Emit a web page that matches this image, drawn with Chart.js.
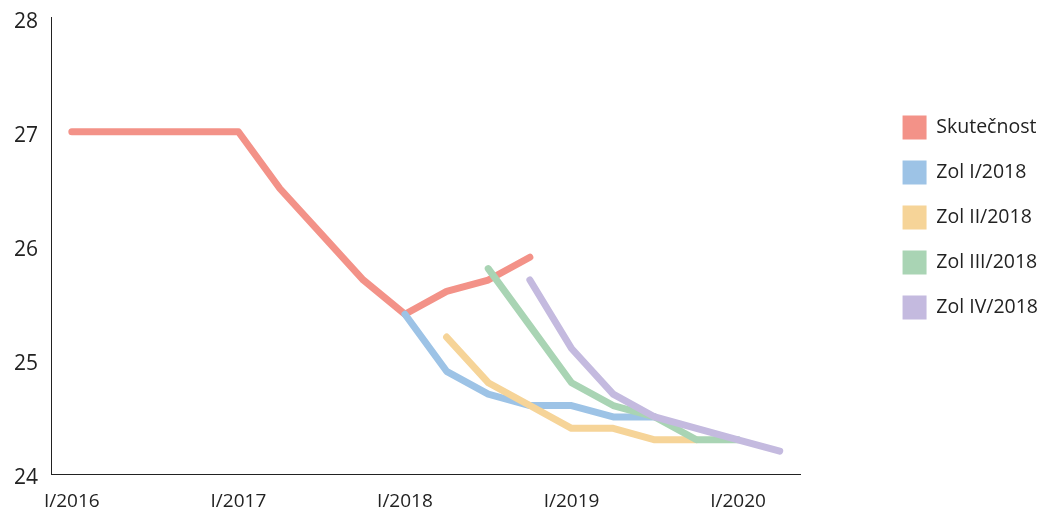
<!DOCTYPE html>
<html>
<head>
<meta charset="utf-8">
<script src="https://cdn.jsdelivr.net/npm/chart.js@4"></script>
<style>
  html, body { margin: 0; padding: 0; background: #fff; }
  #wrap { width: 1048px; height: 508px; }
</style>
</head>
<body>
<div id="wrap"><canvas id="zolChart"></canvas></div>
<script>
// quarters I/2016 .. II/2020
const quarters = [
  'I/2016', 'II/2016', 'III/2016', 'IV/2016',
  'I/2017', 'II/2017', 'III/2017', 'IV/2017',
  'I/2018', 'II/2018', 'III/2018', 'IV/2018',
  'I/2019', 'II/2019', 'III/2019', 'IV/2019',
  'I/2020', 'II/2020'
];

const skutecnost = [27, 27, 27, 27, 27, 26.5, 26.1, 25.7, 25.4, 25.6, 25.7, 25.9,
  null, null, null, null, null, null];
const zolI = [null, null, null, null, null, null, null, null,
  25.4, 24.9, 24.7, 24.6, 24.6, 24.5, 24.5, null, null, null];
const zolII = [null, null, null, null, null, null, null, null, null,
  25.2, 24.8, 24.6, 24.4, 24.4, 24.3, 24.3, null, null];
const zolIII = [null, null, null, null, null, null, null, null, null, null,
  25.8, 25.3, 24.8, 24.6, 24.5, 24.3, 24.3, null];
const zolIV = [null, null, null, null, null, null, null, null, null, null, null,
  25.7, 25.1, 24.7, 24.5, 24.4, 24.3, 24.2];

const yTicks = [24, 25, 26, 27, 28];

const font = '"Open Sans", "DejaVu Sans", sans-serif';

function line(label, data, color, order) {
  return {
    label: label,
    data: data,
    borderColor: color,
    backgroundColor: color,
    borderWidth: 7,
    borderCapStyle: 'round',
    borderJoinStyle: 'round',
    pointRadius: 0,
    pointHoverRadius: 0,
    tension: 0,
    spanGaps: false,
    order: order
  };
}

const ctx = document.getElementById('zolChart');
new Chart(ctx, {
  type: 'line',
  data: {
    labels: quarters,
    datasets: [
      line('Skutečnost', skutecnost, '#F39288', 5),
      line('Zol I/2018', zolI, '#9DC3E6', 4),
      line('Zol II/2018', zolII, '#F6D498', 3),
      line('Zol III/2018', zolIII, '#A9D4B4', 2),
      line('Zol IV/2018', zolIV, '#C4BADF', 1)
    ]
  },
  options: {
    responsive: true,
    maintainAspectRatio: false,
    animation: false,
    layout: {
      padding: { top: 5, right: 0, left: 0, bottom: 0 }
    },
    plugins: {
      tooltip: { enabled: false },
      legend: {
        position: 'right',
        align: 'start',
        title: { display: true, text: '', padding: { top: 75, bottom: 0 } },
        labels: {
          boxWidth: 24,
          boxHeight: 24,
          padding: 21,
          color: '#222',
          font: { family: font, size: 19.5 },
          sort: (a, b) => a.datasetIndex - b.datasetIndex,
          generateLabels: (chart) => {
            const items = Chart.defaults.plugins.legend.labels.generateLabels(chart);
            items.forEach(it => { it.lineWidth = 0; it.fillStyle = it.strokeStyle; });
            return items;
          }
        }
      }
    },
    scales: {
      x: {
        offset: true,
        grid: { display: false },
        border: { display: true, color: '#222', width: 1 },
        ticks: {
          autoSkip: false,
          maxRotation: 0,
          padding: 8,
          color: '#222',
          font: { family: font, size: 19 },
          callback: function (val, i) { return i % 4 === 0 ? quarters[i] : ''; }
        },
        afterFit: (s) => { s.height = 34; }
      },
      y: {
        min: 24,
        max: 28,
        grid: { display: false },
        border: { display: true, color: '#222', width: 1 },
        afterBuildTicks: (s) => { s.ticks = yTicks.map(v => ({ value: v })); },
        ticks: {
          padding: 5,
          labelOffset: 4,
          color: '#222',
          font: { family: font, size: 21 }
        },
        afterFit: (s) => { s.width = 51; }
      },
      spacer: {
        type: 'linear',
        position: 'right',
        display: true,
        grid: { display: false },
        border: { display: false },
        ticks: { display: false },
        afterFit: (s) => { s.width = 81; }
      }
    }
  }
});
</script>
</body>
</html>
